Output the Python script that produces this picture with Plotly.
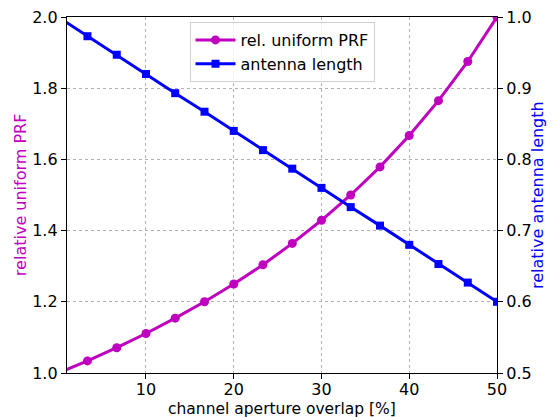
import plotly.graph_objects as go

overlap = [0, 3.33, 6.67, 10, 13.33, 16.67, 20, 23.33, 26.67, 30, 33.33, 36.67, 40, 43.33, 46.67, 50]
prf = [1.000, 1.034, 1.071, 1.111, 1.154, 1.200, 1.250, 1.304, 1.364, 1.429, 1.500, 1.579, 1.667, 1.765, 1.875, 2.000]
antenna = [1.000, 0.973, 0.947, 0.920, 0.893, 0.867, 0.840, 0.813, 0.787, 0.760, 0.733, 0.707, 0.680, 0.653, 0.627, 0.600]
x_ticks = [10, 20, 30, 40, 50]
y1_ticks = [1.0, 1.2, 1.4, 1.6, 1.8, 2.0]
y2_ticks = [0.5, 0.6, 0.7, 0.8, 0.9, 1.0]

MAG = "#bf00bf"
BLUE = "#0000ff"
FS = 16
FAM = "DejaVu Sans"
font = dict(family=FAM, size=FS, color="black")

fig = go.Figure()
fig.add_trace(go.Scatter(x=overlap, y=prf, name="rel. uniform PRF", mode="lines+markers",
                         line=dict(color=MAG, width=3), marker=dict(symbol="circle", size=9, color=MAG)))
fig.add_trace(go.Scatter(x=overlap, y=antenna, name="antenna length", mode="lines+markers", yaxis="y2",
                         line=dict(color=BLUE, width=3), marker=dict(symbol="square", size=8, color=BLUE)))

axis_common = dict(showline=True, linecolor="black", linewidth=1.3, ticks="outside", ticklen=5,
                   tickcolor="black", zeroline=False, tickfont=font, automargin=False)
fig.update_layout(
    width=555, height=417,
    margin=dict(l=67, r=58, t=17, b=44),
    paper_bgcolor="white", plot_bgcolor="white",
    font=font,
    showlegend=True,
    legend=dict(x=0.5, xanchor="center", y=0.986, yanchor="top", bgcolor="rgba(255,255,255,0.8)",
                bordercolor="#d0d0d0", borderwidth=1, font=font, tracegroupgap=0, itemwidth=40),
    xaxis=dict(range=[1, 50], tickvals=x_ticks, mirror=True, ticklabelstandoff=-3,
               showgrid=True, gridcolor="#b0b0b0", griddash="dot", gridwidth=1, **axis_common),
    yaxis=dict(range=[1.0, 2.0], tickvals=y1_ticks, tickformat=".1f",
               showgrid=True, gridcolor="#b0b0b0", griddash="dot", gridwidth=1, **axis_common),
    yaxis2=dict(range=[0.5, 1.0], tickvals=y2_ticks, tickformat=".1f",
                overlaying="y", side="right", showgrid=False, **axis_common),
    annotations=[
        dict(text="channel aperture overlap [%]", xref="paper", yref="paper", x=0.5, y=-0.1,
             xanchor="center", yanchor="middle", showarrow=False, font=dict(family=FAM, size=15.5, color="black")),
        dict(text="relative uniform PRF", xref="paper", yref="paper", x=-0.109, y=0.5, textangle=-90,
             xanchor="center", yanchor="middle", showarrow=False, font=dict(family=FAM, size=FS, color=MAG)),
        dict(text="relative antenna length", xref="paper", yref="paper", x=1.093, y=0.5, textangle=-90,
             xanchor="center", yanchor="middle", showarrow=False, font=dict(family=FAM, size=FS, color=BLUE)),
    ],
)
fig.write_html("out.html")
